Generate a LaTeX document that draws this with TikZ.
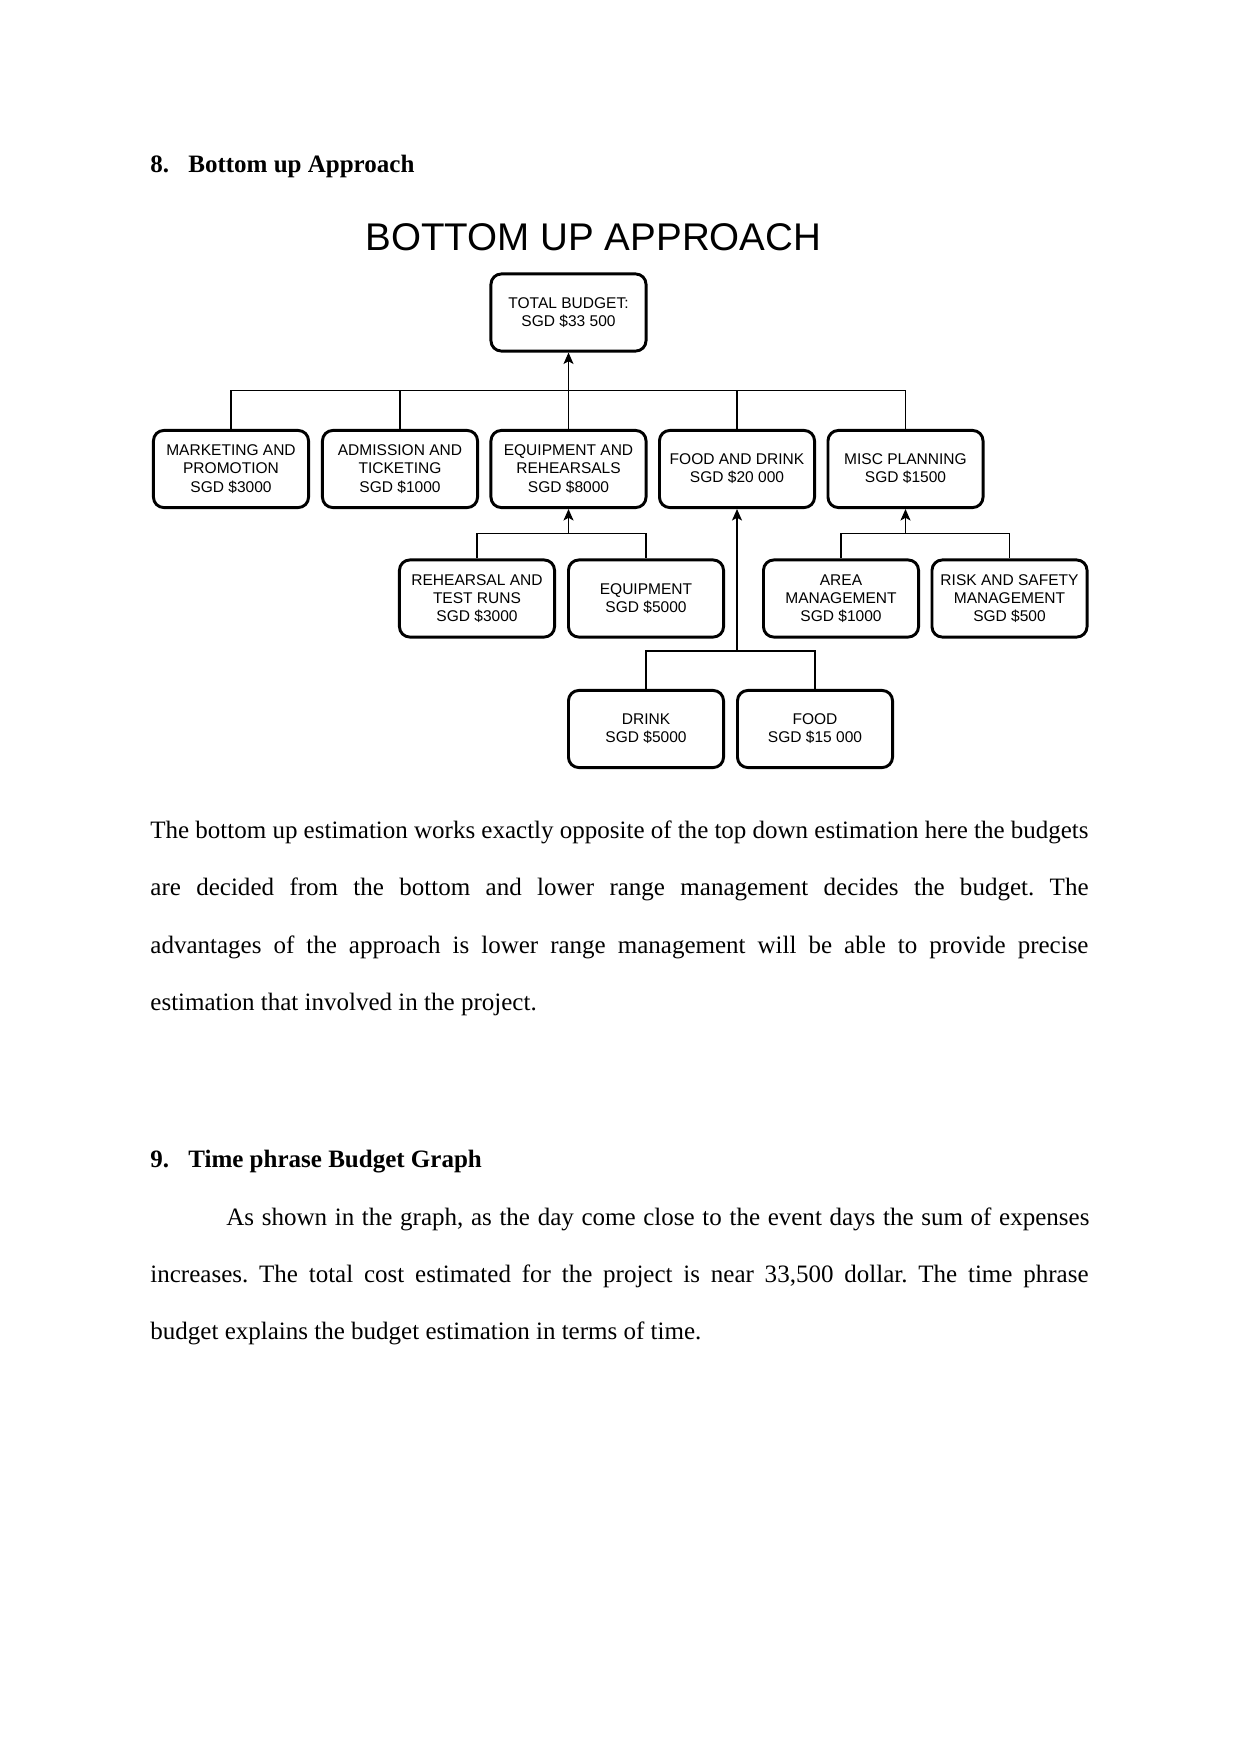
\documentclass[tikz,border=0pt]{standalone}
\usepackage{fontspec}
\setmainfont{Liberation Serif}
\newfontfamily\diagfont{Liberation Sans}
\usepackage{tikz}
\usetikzlibrary{arrows.meta,calc}
\frenchspacing

\tikzset{
    budgetbox/.style={draw,line width=1.4pt,rounded corners=5pt,minimum width=74.4pt,
        minimum height=37pt,align=center,inner sep=2pt,
        font=\diagfont\fontsize{7.45}{8.7}\selectfont},
    link/.style={line width=0.55pt},
    uparrow/.style={line width=0.55pt,-{Stealth[length=5.5pt,width=4.8pt,inset=1.3pt]}},
    bodyline/.style={anchor=base west,inner sep=0pt,font=\fontsize{12}{14}\selectfont}
}

\begin{document}
\begin{tikzpicture}[x=0.4797pt,y=-0.4797pt]
    \useasboundingbox (0,0) rectangle (1241,1754);
    \fill[white] (0,0) rectangle (1241,1754);

    \node[bodyline,font=\bfseries\fontsize{12}{14}\selectfont] (head8) at (150,173)
        {\makebox[18.2pt][l]{8.}Bottom up Approach};
    \node[anchor=base,inner sep=0pt,font=\diagfont\fontsize{18.5}{20}\selectfont] (title) at (593.5,250)
        {BOTTOM UP APPROACH};

    \node[budgetbox] (total) at (568.5,312.5) {TOTAL BUDGET:\\SGD \$33 500};

    \node[budgetbox] (mkt) at (231,469) {MARKETING AND\\PROMOTION\\SGD \$3000};
    \node[budgetbox] (adm) at (400,469) {ADMISSION AND\\TICKETING\\SGD \$1000};
    \node[budgetbox] (eqr) at (568.5,469) {EQUIPMENT AND\\REHEARSALS\\SGD \$8000};
    \node[budgetbox] (fnd) at (737,469) {FOOD AND DRINK\\SGD \$20 000};
    \node[budgetbox] (misc) at (905.5,469) {MISC PLANNING\\SGD \$1500};

    \node[budgetbox] (reh) at (477,598.5) {REHEARSAL AND\\TEST RUNS\\SGD \$3000};
    \node[budgetbox] (equ) at (646,598.5) {EQUIPMENT\\SGD \$5000};
    \node[budgetbox] (area) at (841,598.5) {AREA\\MANAGEMENT\\SGD \$1000};
    \node[budgetbox] (risk) at (1009.5,598.5) {RISK AND SAFETY\\MANAGEMENT\\SGD \$500};

    \node[budgetbox] (drink) at (646,729) {DRINK\\SGD \$5000};
    \node[budgetbox] (food) at (815,729) {FOOD\\SGD \$15 000};

    \coordinate (bus1) at (568.5,390.5);
    \coordinate (bus2) at (568.5,533.5);
    \coordinate (bus3) at (905.5,533.5);
    \coordinate (bus4) at (737,651);

    \draw[link] (mkt.north) |- (bus1) -| (misc.north);
    \draw[link] (adm.north) -- (adm.north |- bus1);
    \draw[link] (fnd.north) -- (fnd.north |- bus1);
    \draw[link] (eqr.north) -- (bus1);
    \draw[uparrow] (bus1) -- (total.south);

    \draw[link] (reh.north) |- (bus2) -| (equ.north);
    \draw[uparrow] (bus2) -- (eqr.south);
    \draw[link] (area.north) |- (bus3) -| (risk.north);
    \draw[uparrow] (bus3) -- (misc.south);
    \draw[link] (drink.north) |- (bus4) -| (food.north);
    \draw[uparrow] (bus4) -- (fnd.south);

    \node[bodyline] (p1a) at (150,838) {\makebox[450pt][s]{The bottom up estimation works exactly opposite of the top down estimation here the budgets}};
    \node[bodyline] (p1b) at (150,895) {\makebox[450pt][s]{are decided from the bottom and lower range management decides the budget. The}};
    \node[bodyline] (p1c) at (150,953) {\makebox[450pt][s]{advantages of the approach is lower range management will be able to provide precise}};
    \node[bodyline] (p1d) at (150,1010) {estimation that involved in the project.};

    \node[bodyline,font=\bfseries\fontsize{12}{14}\selectfont] (head9) at (150,1167)
        {\makebox[18.2pt][l]{9.}Time phrase Budget Graph};
    \node[bodyline] (p2a) at (226,1225) {\makebox[414pt][s]{As shown in the graph, as the day come close to the event days the sum of expenses}};
    \node[bodyline] (p2b) at (150,1282) {\makebox[450pt][s]{increases. The total cost estimated for the project is near 33,500 dollar. The time phrase}};
    \node[bodyline] (p2c) at (150,1339) {budget explains the budget estimation in terms of time.};
\end{tikzpicture}
\end{document}
